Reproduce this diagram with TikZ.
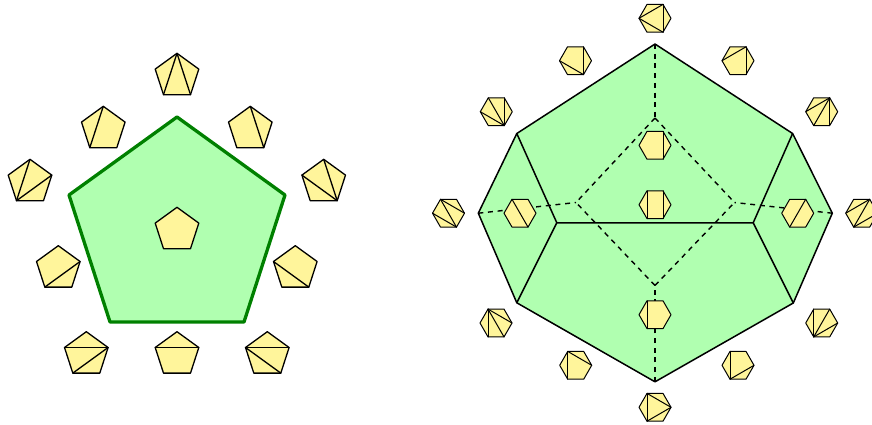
\documentclass[tikz,border=0pt]{standalone}
\definecolor{facegreen}{RGB}{176,255,176}
\definecolor{faceyellow}{RGB}{255,245,155}
\definecolor{rimgreen}{RGB}{0,128,0}
\tikzset{
  bigpent/.style={draw=rimgreen,fill=facegreen,line width=3.3pt,line join=round},
  bigpoly/.style={draw=black,fill=facegreen,line width=1.5pt,line join=round},
  solidedge/.style={draw=black,line width=1.5pt},
  hiddenedge/.style={draw=black,line width=1.4pt,dash pattern=on 5pt off 4.7pt},
  tile/.style={draw=black,fill=faceyellow,line join=round},
  chord/.style={draw=black,line cap=round},
}
\newcommand\hexa[3]{%
  \begin{scope}[shift={(#1,#2)}]
    \coordinate (E) at (16,0); \coordinate (NE) at (8,-13.9); \coordinate (NW) at (-8,-13.9);
    \coordinate (W) at (-16,0); \coordinate (SW) at (-8,13.9); \coordinate (SE) at (8,13.9);
    \path[tile,line width=1pt] (E)--(NE)--(NW)--(W)--(SW)--(SE)--cycle;
    \foreach \a/\b in {#3}{\path[chord,line width=1pt] (\a)--(\b);}
  \end{scope}}
\newcommand\penta[3]{%
  \begin{scope}[shift={(#1,#2)}]
    \coordinate (T) at (0,-22.9); \coordinate (R) at (21.8,-7.1); \coordinate (BR) at (13.5,18.5);
    \coordinate (BL) at (-13.5,18.5); \coordinate (L) at (-21.8,-7.1);
    \path[tile,line width=1.3pt] (T)--(R)--(BR)--(BL)--(L)--cycle;
    \foreach \a/\b in {#3}{\path[chord,line width=1.3pt] (\a)--(\b);}
  \end{scope}}
\begin{document}
\begin{tikzpicture}[x=1pt,y=-1pt]
\clip (0,0) rectangle (872,424);
% left: pentagon
\path[bigpent] (177,117)--(285,195)--(244,322)--(110,322)--(69,195)--cycle;
\penta{177}{230.2}{T/T}
\penta{177}{76.2}{T/BL,T/BR}
\penta{103.3}{129.2}{T/BL}
\penta{30}{182.2}{T/BL,R/BL}
\penta{250.3}{129.2}{T/BR}
\penta{323.7}{182.2}{T/BR,L/BR}
\penta{295.3}{268.6}{L/BR}
\penta{267.3}{354.6}{L/R,L/BR}
\penta{177}{354.6}{L/R}
\penta{86.3}{354.6}{L/R,R/BL}
\penta{58.3}{268.6}{R/BL}
% right: dodecahedron
\coordinate (a) at (655,44); \coordinate (b) at (792.6,133.5); \coordinate (c) at (832.3,213.2);
\coordinate (d) at (793.3,303); \coordinate (e) at (655,381.8); \coordinate (f) at (516.8,302.8);
\coordinate (g) at (478.3,213.2); \coordinate (h) at (516.8,133.5);
\coordinate (p) at (556.8,222.8); \coordinate (q) at (753.2,222.8);
\coordinate (r) at (655,118); \coordinate (s) at (576,202.5); \coordinate (t) at (734.5,202.5); \coordinate (u) at (655,285.5);
\path[bigpoly] (a)--(b)--(c)--(d)--(e)--(f)--(g)--(h)--cycle;
\path[solidedge] (h)--(p)--(f) (p)--(q) (b)--(q)--(d);
\path[hiddenedge] (a)--(r);
\path[hiddenedge] (r)--(s);
\path[hiddenedge] (r)--(t);
\path[hiddenedge] (g)--(s);
\path[hiddenedge] (c)--(t);
\path[hiddenedge] (u)--(s);
\path[hiddenedge] (u)--(t);
\path[hiddenedge] (e)--(u);
\hexa{520}{213.2}{NW/SE}
\hexa{797.7}{213.2}{NE/SW}
\hexa{655}{145.3}{NE/SE}
\hexa{655}{204.7}{NW/SW,NE/SE}
\hexa{655}{314.7}{NW/SW}
\hexa{655}{18.3}{W/NE,NE/SE,W/SE}
\hexa{738}{60.7}{W/NE,NE/SE}
\hexa{821.7}{111.7}{NE/W,NE/SW,NE/SE}
\hexa{861.7}{213.2}{W/NE,NE/SW,SW/E}
\hexa{821.7}{323}{SW/NW,SW/NE,SW/E}
\hexa{738}{365.3}{SW/NW,SW/E}
\hexa{655}{407.3}{NW/SW,NW/E,SW/E}
\hexa{575.7}{365.3}{NW/SW,NW/E}
\hexa{496}{323}{NW/SW,NW/SE,NW/E}
\hexa{448.5}{213.2}{NW/E,NW/SE,W/SE}
\hexa{496.3}{111.7}{NE/SE,NW/SE,W/SE}
\hexa{575.5}{60.7}{NE/SE,W/SE}
\end{tikzpicture}
\end{document}
